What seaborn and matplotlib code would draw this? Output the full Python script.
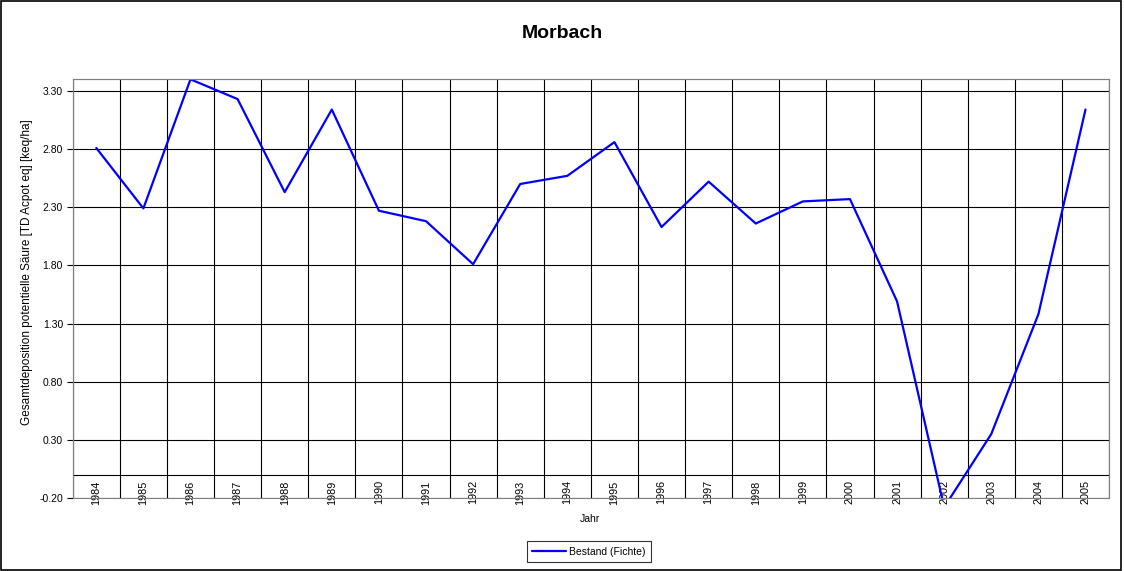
import numpy as np
import pandas as pd
import seaborn as sns
import matplotlib.pyplot as plt
from matplotlib.patches import Rectangle
from matplotlib.ticker import FormatStrFormatter

jahre = ['1984', '1985', '1986', '1987', '1988', '1989', '1990', '1991', '1992', '1993', '1994',
         '1995', '1996', '1997', '1998', '1999', '2000', '2001', '2002', '2003', '2004', '2005']
bestand_fichte = [2.81, 2.29, 3.40, 3.23, 2.43, 3.14, 2.27, 2.18, 1.81, 2.50, 2.57,
                  2.86, 2.13, 2.52, 2.16, 2.35, 2.37, 1.49, -0.28, 0.35, 1.38, 3.14]
y_ticks = [-0.20, 0.30, 0.80, 1.30, 1.80, 2.30, 2.80, 3.30]

df = pd.DataFrame({'Jahr': jahre, 'Wert': bestand_fichte})

sns.set_style('white')
plt.rcParams['font.family'] = ['Liberation Sans', 'DejaVu Sans']
plt.rcParams['text.color'] = 'black'
plt.rcParams['axes.labelcolor'] = 'black'
plt.rcParams['xtick.color'] = 'black'
plt.rcParams['ytick.color'] = 'black'

fig = plt.figure(figsize=(11.24, 5.71), dpi=100)
ax = fig.add_axes([0.0647, 0.1279, 0.922, 0.7332])

sns.lineplot(data=df, x='Jahr', y='Wert', ax=ax, color='#0000FF', linewidth=1.6,
             label='Bestand (Fichte)', sort=False)

ax.set_xlim(-0.5, len(jahre) - 0.5)
ax.set_ylim(-0.2, 3.4)

# y axis
ax.set_yticks(y_ticks)
ax.yaxis.set_major_formatter(FormatStrFormatter('%.2f'))
ax.tick_params(axis='y', which='major', left=True, length=4, width=0.8, color='black',
               labelsize=7.5, pad=3)
ax.grid(axis='y', which='major', color='black', linewidth=0.8)

# category axis crossing at zero, gridlines between the categories
ax.spines['bottom'].set_position(('data', 0))
ax.spines['bottom'].set_color('black')
ax.spines['bottom'].set_linewidth(0.8)
ax.set_xticks(range(len(jahre)))
ax.set_xticklabels(jahre, rotation=90)
ax.set_xticks(np.arange(-0.5, len(jahre), 1), minor=True)
ax.tick_params(axis='x', which='major', length=0, labelsize=7.8, pad=4)
ax.tick_params(axis='x', which='minor', length=0)
ax.grid(axis='x', which='minor', color='black', linewidth=0.8)
ax.grid(axis='x', which='major', visible=False)

for s in ['top', 'right', 'left']:
    ax.spines[s].set_color('#808080')
    ax.spines[s].set_linewidth(0.8)
ax.add_patch(Rectangle((0, 0), 1, 1, transform=ax.transAxes, fill=False,
                       edgecolor='#808080', linewidth=0.8, clip_on=False, zorder=3))

ax.set_xlabel('Jahr', fontsize=7.5, va='center')
ax.xaxis.set_label_coords(0.499, -0.05)
ax.set_ylabel('Gesamtdeposition potentielle Säure [TD Acpot eq] [keq/ha]', fontsize=8.5,
              va='center')
ax.yaxis.set_label_coords(-0.044, 0.54)

fig.text(0.5, 0.942, 'Morbach', fontsize=14, fontweight='bold', ha='center', va='center')

leg = ax.legend(loc='center', bbox_to_anchor=(0.498, -0.128), fontsize=7.5, frameon=True,
                fancybox=False, handlelength=3.2, handletextpad=0.3, borderpad=0.5)
leg.get_frame().set_edgecolor('black')
leg.get_frame().set_linewidth(0.8)

fig.patches.append(Rectangle((0.001, 0.002), 0.996, 0.996, transform=fig.transFigure,
                             fill=False, edgecolor='black', linewidth=1.2))

fig.savefig('out.png', dpi=100, facecolor='white')
